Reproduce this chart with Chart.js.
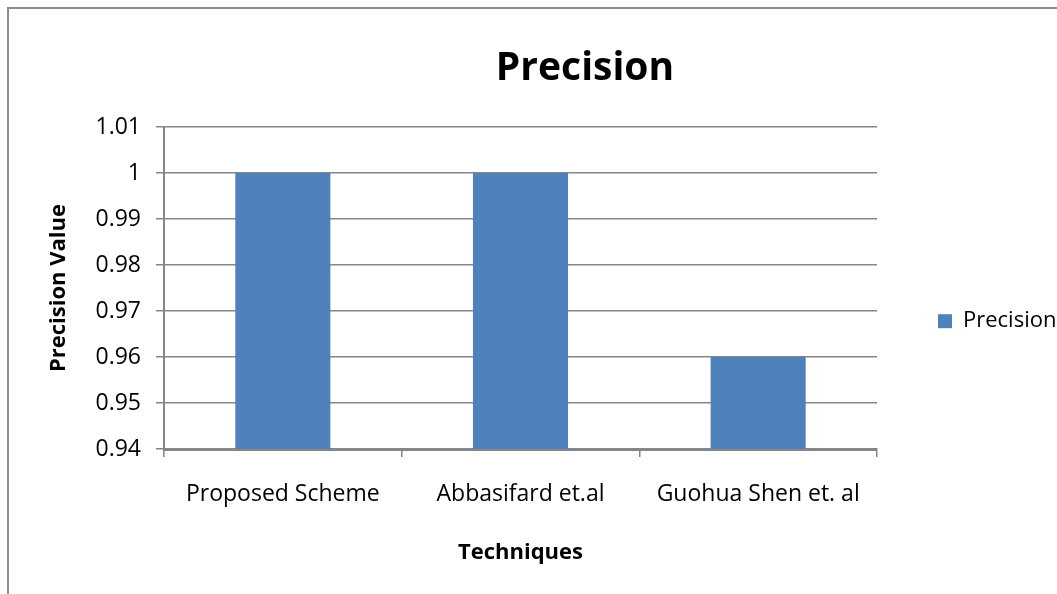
<!DOCTYPE html>
<html>
<head>
<meta charset="utf-8">
<script src="https://cdn.jsdelivr.net/npm/chart.js@4.4.1/dist/chart.umd.min.js"></script>
<style>
  html, body { margin: 0; padding: 0; background: #fff; }
  #wrap { width: 1057px; height: 594px; position: relative; }
</style>
</head>
<body>
<div id="wrap"><canvas id="c" width="1057" height="594"></canvas></div>
<script>
const categories = ['Proposed Scheme', 'Abbasifard et.al', 'Guohua Shen et. al'];
const precisionValues = [1.0, 1.0, 0.96];
const seriesName = 'Precision';
const chartTitle = 'Precision';
const yAxisTitle = 'Precision Value';
const xAxisTitle = 'Techniques';

const FONT = "'Open Sans', 'Noto Sans', sans-serif";
const GRID = '#868686';

// Outer frame and the chart heading
const framePlugin = {
  id: 'frame',
  afterDraw(chart) {
    const ctx = chart.ctx;
    ctx.save();
    ctx.strokeStyle = '#8c8c8c';
    ctx.lineWidth = 2;
    ctx.beginPath();
    ctx.moveTo(8, 594);
    ctx.lineTo(8, 8);
    ctx.lineTo(1057, 8);
    ctx.stroke();
    ctx.fillStyle = '#000';
    ctx.font = 'bold 39px ' + FONT;
    ctx.textAlign = 'center';
    ctx.textBaseline = 'alphabetic';
    ctx.fillText(chartTitle, 585, 80);
    ctx.restore();
  }
};

new Chart(document.getElementById('c'), {
  type: 'bar',
  data: {
    labels: categories,
    datasets: [{
      label: seriesName,
      data: precisionValues,
      backgroundColor: '#4F81BD',
      borderWidth: 0,
      barPercentage: 0.8,
      categoryPercentage: 0.5
    }]
  },
  options: {
    responsive: false,
    animation: false,
    layout: { padding: { left: 0, top: 127, right: 0, bottom: 0 } },
    plugins: {
      title: { display: false },
      tooltip: { enabled: false },
      legend: {
        position: 'right',
        fullSize: false,
        maxWidth: 180,
        title: { display: true, text: ' ', font: { size: 2 }, padding: { top: 0, bottom: 64 } },
        labels: {
          boxWidth: 14,
          boxHeight: 14,
          padding: 61,
          color: '#000',
          font: { family: FONT, size: 22 }
        }
      }
    },
    scales: {
      x: {
        offset: true,
        grid: {
          display: true,
          drawOnChartArea: false,
          drawTicks: true,
          tickLength: 8,
          color: GRID,
          lineWidth: 1.5,
          offset: true
        },
        border: { display: true, color: GRID, width: 3 },
        ticks: {
          color: '#000',
          padding: 24,
          font: { family: FONT, size: 23 },
          maxRotation: 0
        },
        title: {
          display: true,
          text: xAxisTitle,
          color: '#000',
          font: { family: FONT, size: 22, weight: 'bold' },
          padding: { top: 0, bottom: 28 }
        },
        afterFit(scale) { scale.height = 145; }
      },
      y: {
        min: 0.94,
        max: 1.01,
        grid: {
          color: GRID,
          lineWidth: 1.5,
          drawTicks: true,
          tickLength: 8
        },
        border: { display: true, color: GRID, width: 2 },
        ticks: {
          stepSize: 0.01,
          color: '#000',
          padding: 15,
          font: { family: FONT, size: 23 },
          callback: v => String(Number(v.toFixed(2)))
        },
        title: {
          display: true,
          text: yAxisTitle,
          color: '#000',
          font: { family: FONT, size: 22, weight: 'bold' },
          padding: { top: 46, bottom: 0 }
        },
        afterFit(scale) { scale.width = 164; }
      }
    }
  },
  plugins: [framePlugin]
});
</script>
</body>
</html>
